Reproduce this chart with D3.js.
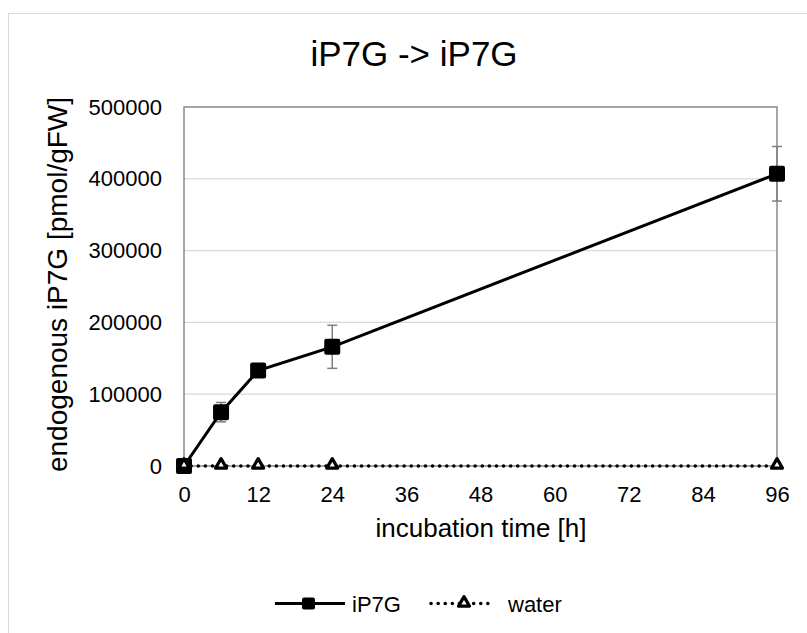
<!DOCTYPE html>
<html>
<head>
<meta charset="utf-8">
<script src="https://cdn.jsdelivr.net/npm/d3@7"></script>
<style>
  body { margin: 0; background: #fff; }
  svg { font-family: Arial, "Liberation Sans", sans-serif; }
</style>
</head>
<body>
<svg id="chart" width="807" height="633"></svg>
<script>
// chart data
const times = [0, 6, 12, 24, 96];
const ip7gValues = [0, 75000, 133000, 166000, 407000];
const ip7gErrors = [0, 13500, 3000, 30000, 38000];
const waterValues = [0, 0, 0, 0, 0];
const xTicks = [0, 12, 24, 36, 48, 60, 72, 84, 96];
const yTicks = [0, 100000, 200000, 300000, 400000, 500000];

const svg = d3.select('#chart');

const plotLeft = 184;
const plotRight = 777;
const plotTop = 107;
const plotBottom = 466;

// outer chart frame (extends past the picture edge)
svg.append('rect')
  .attr('x', 8.5).attr('y', 13.5)
  .attr('width', 820).attr('height', 640)
  .style('fill', 'none')
  .style('stroke', '#d9d9d9')
  .style('stroke-width', 1);

const x = d3.scaleLinear().domain([0, 96]).range([plotLeft, plotRight]);
const y = d3.scaleLinear().domain([0, 500000]).range([plotBottom, plotTop]);

// gridlines
svg.append('g')
  .selectAll('line')
  .data(yTicks.slice(1, -1))
  .enter()
  .append('line')
  .attr('x1', plotLeft).attr('x2', plotRight)
  .attr('y1', d => y(d)).attr('y2', d => y(d))
  .style('stroke', '#d9d9d9')
  .style('stroke-width', 1.3);

// plot area border
svg.append('rect')
  .attr('x', plotLeft).attr('y', plotTop)
  .attr('width', plotRight - plotLeft).attr('height', plotBottom - plotTop)
  .style('fill', 'none')
  .style('stroke', '#898989')
  .style('stroke-width', 1.5);

// axes (labels only)
const yAxis = svg.append('g')
  .attr('transform', `translate(${plotLeft}, 0)`)
  .call(d3.axisLeft(y).tickValues(yTicks).tickSize(0).tickPadding(22).tickFormat(d3.format('d')));
yAxis.select('.domain').remove();
yAxis.selectAll('text').style('font-size', '22px').style('fill', '#000')
  .style('font-family', 'Arial, "Liberation Sans", sans-serif');

const xAxis = svg.append('g')
  .attr('transform', `translate(0, ${plotBottom})`)
  .call(d3.axisBottom(x).tickValues(xTicks).tickSize(0).tickPadding(20).tickFormat(d3.format('d')));
xAxis.select('.domain').remove();
xAxis.selectAll('text').style('font-size', '22px').style('fill', '#000')
  .style('font-family', 'Arial, "Liberation Sans", sans-serif');

// titles
svg.append('text')
  .attr('x', 414).attr('y', 66)
  .attr('text-anchor', 'middle')
  .style('font-size', '35px')
  .text('iP7G -> iP7G');

svg.append('text')
  .attr('x', 481).attr('y', 537)
  .attr('text-anchor', 'middle')
  .style('font-size', '26px')
  .text('incubation time [h]');

svg.append('text')
  .attr('transform', `translate(67, ${(plotTop + plotBottom) / 2 - 2}) rotate(-90)`)
  .attr('text-anchor', 'middle')
  .style('font-size', '28px')
  .text('endogenous iP7G [pmol/gFW]');

const ip7g = times.map((t, i) => ({ t: t, v: ip7gValues[i], e: ip7gErrors[i] }));
const water = times.map((t, i) => ({ t: t, v: waterValues[i] }));

const line = d3.line()
  .x(d => x(d.t))
  .y(d => y(d.v));

// error bars
const err = svg.append('g')
  .selectAll('g')
  .data(ip7g.filter(d => d.e > 0))
  .enter()
  .append('g')
  .style('stroke', '#7f7f7f')
  .style('stroke-width', 1.5);
err.append('line')
  .attr('x1', d => x(d.t)).attr('x2', d => x(d.t))
  .attr('y1', d => y(d.v - d.e)).attr('y2', d => y(d.v + d.e));
err.append('line')
  .attr('x1', d => x(d.t) - 5).attr('x2', d => x(d.t) + 5)
  .attr('y1', d => y(d.v - d.e)).attr('y2', d => y(d.v - d.e));
err.append('line')
  .attr('x1', d => x(d.t) - 5).attr('x2', d => x(d.t) + 5)
  .attr('y1', d => y(d.v + d.e)).attr('y2', d => y(d.v + d.e));

// iP7G series
svg.append('path')
  .datum(ip7g)
  .attr('d', line)
  .style('fill', 'none')
  .style('stroke', '#000')
  .style('stroke-width', 3);

svg.append('g')
  .selectAll('rect')
  .data(ip7g)
  .enter()
  .append('rect')
  .attr('x', d => x(d.t) - 8).attr('y', d => y(d.v) - 8)
  .attr('width', 16).attr('height', 16)
  .attr('rx', 2)
  .style('fill', '#000');

// water series
svg.append('path')
  .datum(water)
  .attr('d', line)
  .style('fill', 'none')
  .style('stroke', '#000')
  .style('stroke-width', 3.5)
  .style('stroke-linecap', 'round')
  .style('stroke-dasharray', '0.1 7');

const tri = d3.symbol().type(d3.symbolTriangle).size(52);
svg.append('g')
  .selectAll('path')
  .data(water)
  .enter()
  .append('path')
  .attr('d', tri)
  .attr('transform', d => `translate(${x(d.t)}, ${y(d.v) - 1})`)
  .style('fill', '#fff')
  .style('stroke', '#000')
  .style('stroke-width', 3.2)
  .style('stroke-linejoin', 'round');

// legend
const legend = svg.append('g');
legend.append('line')
  .attr('x1', 275).attr('x2', 345).attr('y1', 603.5).attr('y2', 603.5)
  .style('stroke', '#000').style('stroke-width', 3);
legend.append('rect')
  .attr('x', 302).attr('y', 597.5).attr('width', 13).attr('height', 12).attr('rx', 2)
  .style('fill', '#000');
legend.append('text')
  .attr('x', 352).attr('y', 611.5)
  .style('font-size', '22px')
  .text('iP7G');

legend.append('line')
  .attr('x1', 431).attr('x2', 492).attr('y1', 603.5).attr('y2', 603.5)
  .style('stroke', '#000').style('stroke-width', 3.5)
  .style('stroke-linecap', 'round')
  .style('stroke-dasharray', '0.1 7');
legend.append('path')
  .attr('d', tri)
  .attr('transform', 'translate(464, 603)')
  .style('fill', '#fff')
  .style('stroke', '#000')
  .style('stroke-width', 3.2)
  .style('stroke-linejoin', 'round');
legend.append('text')
  .attr('x', 508).attr('y', 611.5)
  .style('font-size', '22px')
  .text('water');
</script>
</body>
</html>
